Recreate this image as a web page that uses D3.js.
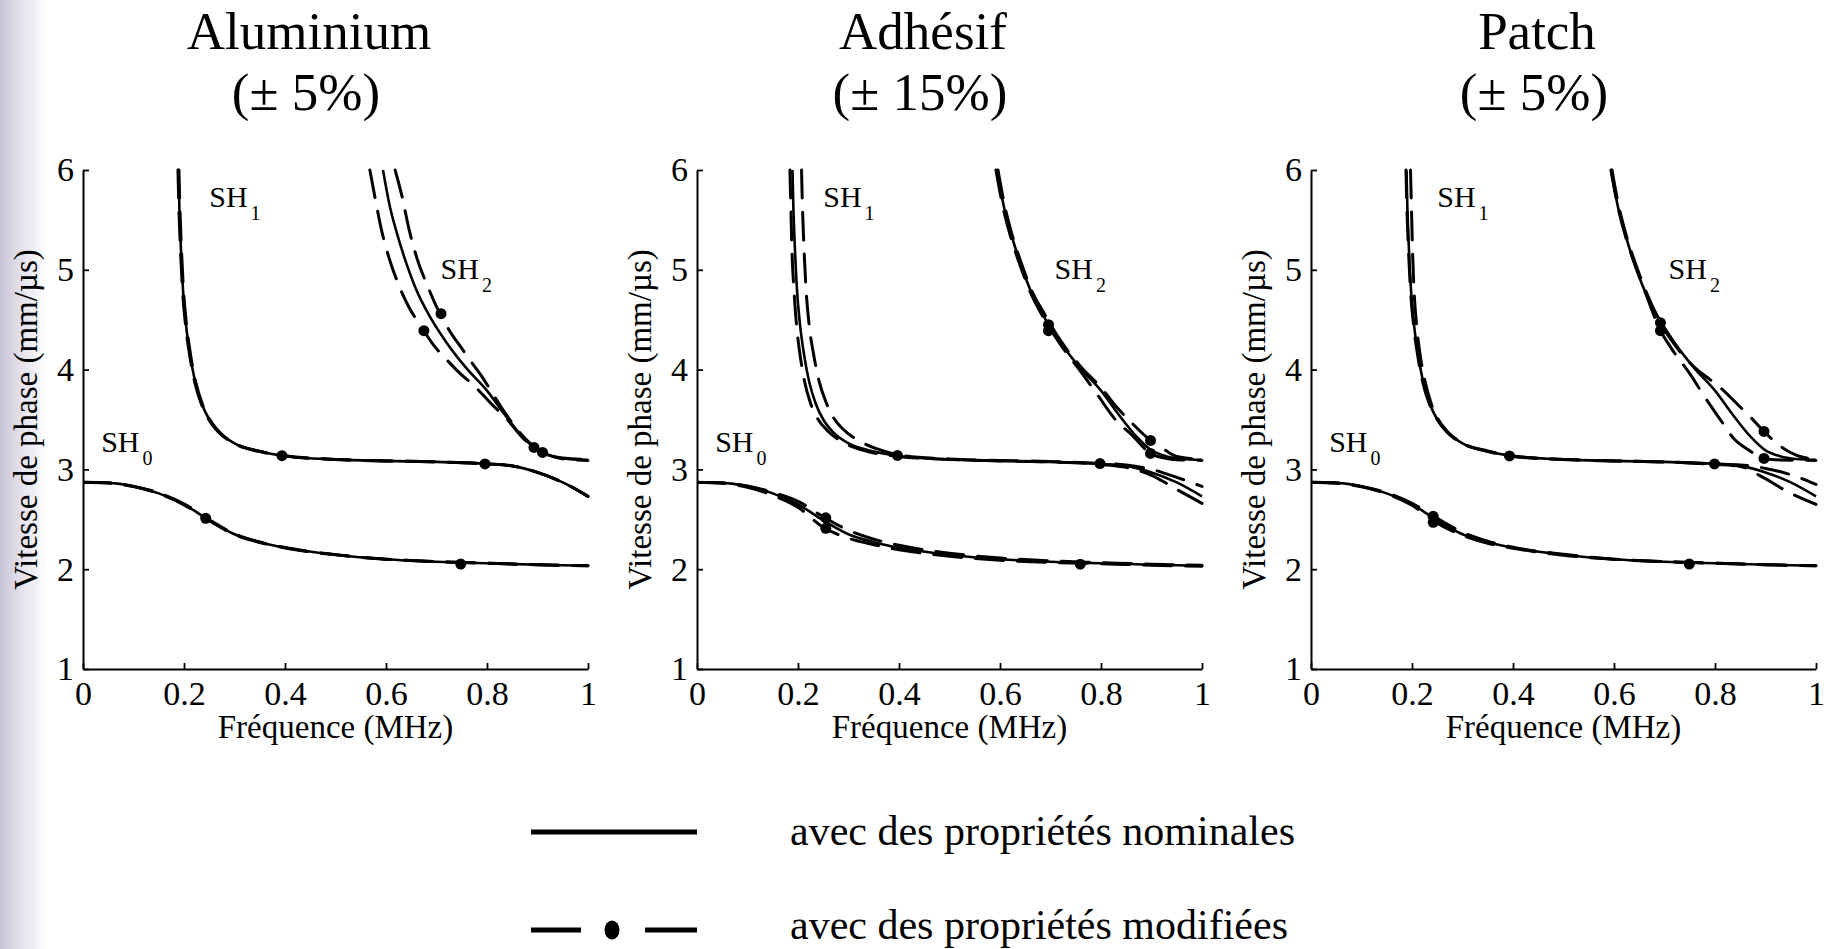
<!DOCTYPE html>
<html><head><meta charset="utf-8">
<script src="https://cdn.jsdelivr.net/npm/d3@7"></script>
<style>
body{margin:0;background:#fff;}
svg{display:block;}
text{font-family:"Liberation Serif","Times New Roman",serif;fill:#000;}
</style>
</head><body>
<svg id="c" width="1829" height="949"></svg>
<script>
// ---------------- data ----------------
const xTicks = [0, 0.2, 0.4, 0.6, 0.8, 1];
const yTicks = [1, 2, 3, 4, 5, 6];
const panelTitles = ["Aluminium", "Adhésif", "Patch"];
const panelTolerances = ["(± 5%)", "(± 15%)", "(± 5%)"];
const xLabel = "Fréquence (MHz)";
const yLabel = "Vitesse de phase (mm/µs)";
const modeNames = ["0", "1", "2"];
const legendLabels = ["avec des propriétés nominales", "avec des propriétés modifiées"];

// nominal dispersion curves [f (MHz), v (mm/µs)]
const SH0_nominal = [[0,2.87],[0.05,2.865],[0.1,2.83],[0.15,2.76],[0.2,2.65],[0.25,2.49],[0.3,2.35],[0.35,2.27],[0.4,2.215],[0.5,2.145],[0.6,2.1],[0.7,2.075],[0.8,2.06],[0.9,2.045],[1,2.035]];
const SH1_nominal = [[0.189,6],[0.191,5.6],[0.194,5.2],[0.198,4.8],[0.204,4.45],[0.212,4.15],[0.222,3.88],[0.235,3.66],[0.25,3.5],[0.27,3.37],[0.3,3.26],[0.35,3.18],[0.4,3.135],[0.5,3.1],[0.6,3.085],[0.7,3.075],[0.8,3.055],[0.85,3.035],[0.9,2.97],[0.95,2.87],[1,2.73]];
const SH2_nominal = [[0.594,6],[0.607,5.65],[0.622,5.36],[0.64,5.07],[0.66,4.8],[0.687,4.53],[0.72,4.27],[0.76,4.01],[0.8,3.79],[0.835,3.55],[0.87,3.33],[0.9,3.19],[0.93,3.13],[0.96,3.105],[1,3.095]];

// Aluminium (± 5%) modified curves
const al_SH0_plus  = [[0,2.87],[0.05,2.865],[0.1,2.83],[0.15,2.765],[0.2,2.655],[0.25,2.495],[0.3,2.355],[0.35,2.272],[0.4,2.217],[0.5,2.146],[0.6,2.1],[0.7,2.075],[0.8,2.06],[0.9,2.045],[1,2.035]];
const al_SH0_minus = [[0,2.87],[0.05,2.863],[0.1,2.828],[0.15,2.757],[0.2,2.645],[0.25,2.485],[0.3,2.347],[0.35,2.268],[0.4,2.213],[0.5,2.144],[0.6,2.1],[0.7,2.075],[0.8,2.06],[0.9,2.045],[1,2.035]];
const al_SH1_plus  = [[0.19,6],[0.192,5.6],[0.195,5.2],[0.199,4.8],[0.205,4.45],[0.213,4.15],[0.223,3.88],[0.236,3.66],[0.251,3.5],[0.271,3.37],[0.3,3.262],[0.35,3.182],[0.4,3.137],[0.5,3.1],[0.6,3.085],[0.7,3.075],[0.8,3.055],[0.85,3.035],[0.9,2.97],[0.95,2.87],[1,2.73]];
const al_SH1_minus = [[0.188,6],[0.19,5.6],[0.193,5.2],[0.197,4.8],[0.203,4.45],[0.211,4.15],[0.221,3.88],[0.234,3.66],[0.249,3.5],[0.269,3.37],[0.3,3.258],[0.35,3.178],[0.4,3.133],[0.5,3.1],[0.6,3.085],[0.7,3.075],[0.8,3.055],[0.85,3.035],[0.9,2.97],[0.95,2.87],[1,2.73]];
const al_SH2_plus  = [[0.618,6],[0.632,5.73],[0.645,5.42],[0.661,5.12],[0.683,4.83],[0.7,4.63],[0.727,4.38],[0.749,4.22],[0.77,4.07],[0.79,3.93],[0.81,3.77],[0.83,3.61],[0.87,3.34],[0.91,3.17],[0.95,3.115],[1,3.1]];
const al_SH2_minus = [[0.568,6],[0.578,5.73],[0.591,5.4],[0.606,5.12],[0.625,4.85],[0.645,4.63],[0.671,4.42],[0.695,4.24],[0.72,4.1],[0.745,3.97],[0.776,3.83],[0.81,3.65],[0.84,3.5],[0.87,3.32],[0.893,3.22],[0.93,3.13],[0.96,3.1],[1,3.09]];
const al_dots = [[0.243,2.51],[0.748,2.052],[0.394,3.137],[0.796,3.055],[0.675,4.39],[0.709,4.56],[0.893,3.22],[0.91,3.17]];

// Adhésif (± 15%) modified curves
const ad_SH0_plus  = [[0,2.87],[0.05,2.866],[0.1,2.833],[0.15,2.77],[0.2,2.68],[0.25,2.525],[0.3,2.39],[0.35,2.3],[0.4,2.24],[0.5,2.16],[0.6,2.112],[0.7,2.083],[0.8,2.066],[0.9,2.05],[1,2.04]];
const ad_SH0_minus = [[0,2.87],[0.05,2.86],[0.1,2.82],[0.15,2.74],[0.2,2.62],[0.25,2.42],[0.3,2.31],[0.35,2.245],[0.4,2.195],[0.5,2.13],[0.6,2.09],[0.7,2.068],[0.8,2.055],[0.9,2.04],[1,2.03]];
const ad_SH1_plus  = [[0.207,6],[0.209,5.6],[0.212,5.2],[0.216,4.8],[0.222,4.45],[0.231,4.15],[0.242,3.88],[0.255,3.68],[0.27,3.52],[0.29,3.4],[0.32,3.29],[0.36,3.2],[0.4,3.145],[0.5,3.105],[0.6,3.09],[0.7,3.08],[0.8,3.06],[0.85,3.045],[0.9,3.0],[0.95,2.92],[1,2.83]];
const ad_SH1_minus = [[0.184,6],[0.186,5.6],[0.188,5.2],[0.192,4.8],[0.197,4.45],[0.204,4.15],[0.213,3.88],[0.225,3.66],[0.24,3.5],[0.26,3.38],[0.29,3.27],[0.33,3.19],[0.4,3.13],[0.5,3.1],[0.6,3.085],[0.7,3.075],[0.8,3.05],[0.85,3.02],[0.9,2.94],[0.95,2.8],[1,2.66]];
const ad_SH2_plus  = [[0.596,6],[0.609,5.65],[0.624,5.35],[0.642,5.07],[0.662,4.8],[0.689,4.55],[0.72,4.29],[0.76,4.03],[0.8,3.82],[0.83,3.63],[0.86,3.47],[0.898,3.29],[0.925,3.2],[0.95,3.13],[1,3.1]];
const ad_SH2_minus = [[0.592,6],[0.605,5.65],[0.62,5.35],[0.638,5.07],[0.658,4.8],[0.685,4.53],[0.72,4.25],[0.76,3.98],[0.79,3.77],[0.83,3.49],[0.86,3.35],[0.898,3.16],[0.93,3.11],[0.96,3.095],[1,3.09]];
const ad_dots = [[0.255,2.515],[0.255,2.41],[0.759,2.05],[0.397,3.14],[0.798,3.058],[0.696,4.45],[0.696,4.39],[0.898,3.29],[0.898,3.16]];

// Patch (± 5%) modified curves
const pa_SH0_plus  = [[0,2.87],[0.05,2.865],[0.1,2.83],[0.15,2.765],[0.2,2.66],[0.25,2.51],[0.3,2.37],[0.35,2.28],[0.4,2.22],[0.5,2.15],[0.6,2.1],[0.7,2.075],[0.8,2.06],[0.9,2.045],[1,2.035]];
const pa_SH0_minus = [[0,2.87],[0.05,2.86],[0.1,2.825],[0.15,2.755],[0.2,2.64],[0.25,2.46],[0.3,2.34],[0.35,2.26],[0.4,2.21],[0.5,2.14],[0.6,2.1],[0.7,2.075],[0.8,2.06],[0.9,2.045],[1,2.035]];
const pa_SH1_plus  = [[0.197,6],[0.199,5.6],[0.201,5.2],[0.204,4.8],[0.209,4.45],[0.216,4.15],[0.226,3.88],[0.238,3.66],[0.252,3.5],[0.272,3.37],[0.3,3.265],[0.35,3.185],[0.4,3.135],[0.5,3.1],[0.6,3.085],[0.7,3.075],[0.8,3.055],[0.85,3.045],[0.9,3.01],[0.96,2.93],[1,2.85]];
const pa_SH1_minus = [[0.188,6],[0.19,5.6],[0.193,5.2],[0.197,4.8],[0.203,4.45],[0.211,4.15],[0.221,3.88],[0.234,3.66],[0.25,3.5],[0.27,3.37],[0.3,3.26],[0.35,3.18],[0.4,3.13],[0.5,3.1],[0.6,3.085],[0.7,3.075],[0.8,3.05],[0.85,3.03],[0.895,2.92],[0.95,2.76],[1,2.65]];
const pa_SH2_plus  = [[0.596,6],[0.609,5.65],[0.624,5.35],[0.642,5.07],[0.662,4.8],[0.692,4.47],[0.72,4.25],[0.76,4.02],[0.79,3.9],[0.817,3.79],[0.845,3.65],[0.871,3.52],[0.897,3.38],[0.93,3.23],[0.962,3.14],[1,3.1]];
const pa_SH2_minus = [[0.594,6],[0.607,5.65],[0.622,5.35],[0.64,5.07],[0.66,4.8],[0.692,4.39],[0.714,4.21],[0.754,3.93],[0.774,3.77],[0.813,3.48],[0.837,3.31],[0.865,3.2],[0.897,3.11],[0.93,3.095],[1,3.09]];
const pa_dots = [[0.242,2.53],[0.242,2.47],[0.749,2.052],[0.393,3.135],[0.799,3.055],[0.692,4.47],[0.692,4.39],[0.897,3.38],[0.897,3.11]];

const nominalCurves = [SH0_nominal, SH1_nominal, SH2_nominal];
const modifiedCurves = [
  [al_SH0_plus, al_SH0_minus, al_SH1_plus, al_SH1_minus, al_SH2_plus, al_SH2_minus],
  [ad_SH0_plus, ad_SH0_minus, ad_SH1_plus, ad_SH1_minus, ad_SH2_plus, ad_SH2_minus],
  [pa_SH0_plus, pa_SH0_minus, pa_SH1_plus, pa_SH1_minus, pa_SH2_plus, pa_SH2_minus]
];
const modifiedDots = [al_dots, ad_dots, pa_dots];

// ---------------- layout ----------------
const svg = d3.select("#c");
const W = 505, H = 499, TOP = 170;
const panelX = [83, 697, 1311];
const labelAnchors = [[0.036, 3.17], [0.25, 5.63], [0.708, 4.91]];

// left edge shading
const defs = svg.append("defs");
const grad = defs.append("linearGradient").attr("id", "edge").attr("x1", 0).attr("x2", 1).attr("y1", 0).attr("y2", 0);
grad.append("stop").attr("offset", 0).attr("stop-color", "#c9c4d7");
grad.append("stop").attr("offset", 0.4).attr("stop-color", "#e2dfea");
grad.append("stop").attr("offset", 1).attr("stop-color", "#ffffff");
svg.append("rect").attr("x", 0).attr("y", 0).attr("width", 48).attr("height", 949).attr("fill", "url(#edge)");

const x = d3.scaleLinear().domain([0, 1]).range([0, W]);
const y = d3.scaleLinear().domain([1, 6]).range([H, 0]);
const line = d3.line().x(d => x(d[0])).y(d => y(d[1])).curve(d3.curveMonotoneX);

defs.append("clipPath").attr("id", "plotclip").append("rect")
  .attr("x", 0).attr("y", -2).attr("width", W + 3).attr("height", H + 2);

panelTitles.forEach((title, i) => {
  const g = svg.append("g").attr("transform", `translate(${panelX[i]},${TOP})`);
  const cx = (W - 53) / 2;

  g.append("text").attr("x", cx).attr("y", 49 - TOP).attr("text-anchor", "middle")
    .style("font-size", "53px").text(title);
  g.append("text").attr("x", cx - 3).attr("y", 110 - TOP).attr("text-anchor", "middle")
    .style("font-size", "53px").text(panelTolerances[i]);

  // axes
  const xa = g.append("g").attr("transform", `translate(0,${H})`)
    .call(d3.axisBottom(x).tickValues(xTicks).tickFormat(d => String(d)).tickSizeInner(-6).tickSizeOuter(0).tickPadding(12));
  const ya = g.append("g")
    .call(d3.axisLeft(y).tickValues(yTicks).tickFormat(d => String(d)).tickSizeInner(-6).tickSizeOuter(0).tickPadding(9));
  [xa, ya].forEach(a => {
    a.attr("font-family", null).attr("font-size", null);
    a.select(".domain").attr("stroke", "#000").attr("stroke-width", 2);
    a.selectAll(".tick line").attr("stroke", "#000").attr("stroke-width", 1.8);
    a.selectAll(".tick text").style("font-size", "34px").attr("fill", "#000");
  });

  g.append("text").attr("x", W / 2).attr("y", 738 - TOP).attr("text-anchor", "middle")
    .style("font-size", "33px").text(xLabel);
  g.append("text").attr("transform", `translate(-46,${H / 2}) rotate(-90)`).attr("text-anchor", "middle")
    .style("font-size", "33px").text(yLabel);

  const plot = g.append("g").attr("clip-path", "url(#plotclip)");
  plot.selectAll("path.nom").data(nominalCurves).join("path").attr("class", "nom")
    .attr("d", line).attr("fill", "none").attr("stroke", "#000").attr("stroke-width", 2.6)
    .attr("stroke-linejoin", "round");
  plot.selectAll("path.mod").data(modifiedCurves[i]).join("path").attr("class", "mod")
    .attr("d", line).attr("fill", "none").attr("stroke", "#000").attr("stroke-width", 3)
    .attr("stroke-dasharray", "28,14").attr("stroke-linecap", "round");
  g.selectAll("circle.dot").data(modifiedDots[i]).join("circle").attr("class", "dot")
    .attr("cx", d => x(d[0])).attr("cy", d => y(d[1])).attr("r", 5.5).attr("fill", "#000");

  // mode labels
  modeNames.forEach((m, k) => {
    const t = g.append("text").attr("x", x(labelAnchors[k][0])).attr("y", y(labelAnchors[k][1]))
      .style("font-size", "30px");
    t.append("tspan").text("SH");
    t.append("tspan").attr("dx", 3).attr("dy", 13).style("font-size", "20px").text(m);
  });
});

// legend
const lg = svg.append("g");
lg.append("line").attr("x1", 531).attr("x2", 697).attr("y1", 832).attr("y2", 832)
  .attr("stroke", "#000").attr("stroke-width", 5);
lg.append("line").attr("x1", 531).attr("x2", 581).attr("y1", 930).attr("y2", 930)
  .attr("stroke", "#000").attr("stroke-width", 5);
lg.append("line").attr("x1", 645).attr("x2", 697).attr("y1", 930).attr("y2", 930)
  .attr("stroke", "#000").attr("stroke-width", 5);
lg.append("ellipse").attr("cx", 612).attr("cy", 930).attr("rx", 7.5).attr("ry", 9.5).attr("fill", "#000");
legendLabels.forEach((l, k) => {
  lg.append("text").attr("x", 790).attr("y", [845, 939][k]).style("font-size", "42px").text(l);
});
</script>
</body></html>
